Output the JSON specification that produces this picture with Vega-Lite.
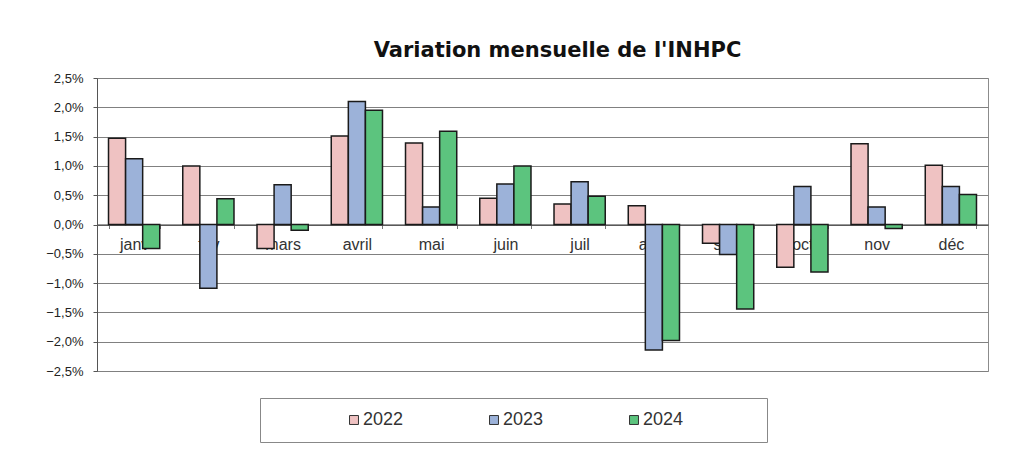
{
  "$schema": "https://vega.github.io/schema/vega-lite/v6.json",
  "width": 891,
  "height": 293,
  "autosize": {"type": "none"},
  "padding": {"left": 97, "top": 78, "right": 21, "bottom": 83},
  "background": "white",
  "config": {
    "locale": {"number": {"decimal": ",", "thousands": " ", "grouping": [3], "currency": ["", " €"]}},
    "view": {"stroke": "#8c8c8c", "strokeWidth": 1},
    "font": "Liberation Sans"
  },
  "title": {
    "text": "Variation mensuelle de l'INHPC",
    "font": "DejaVu Sans",
    "fontSize": 21,
    "fontWeight": "bold",
    "color": "#111111",
    "anchor": "middle",
    "dx": 15,
    "baseline": "alphabetic",
    "offset": -6
  },
  "data": {
    "values": [
      {"mois": "janv", "annee": "2022", "variation": 0.0147},
      {"mois": "janv", "annee": "2023", "variation": 0.0112},
      {"mois": "janv", "annee": "2024", "variation": -0.0041},
      {"mois": "fév", "annee": "2022", "variation": 0.0100},
      {"mois": "fév", "annee": "2023", "variation": -0.0109},
      {"mois": "fév", "annee": "2024", "variation": 0.0044},
      {"mois": "mars", "annee": "2022", "variation": -0.0041},
      {"mois": "mars", "annee": "2023", "variation": 0.0068},
      {"mois": "mars", "annee": "2024", "variation": -0.0010},
      {"mois": "avril", "annee": "2022", "variation": 0.0151},
      {"mois": "avril", "annee": "2023", "variation": 0.0210},
      {"mois": "avril", "annee": "2024", "variation": 0.0195},
      {"mois": "mai", "annee": "2022", "variation": 0.0139},
      {"mois": "mai", "annee": "2023", "variation": 0.0030},
      {"mois": "mai", "annee": "2024", "variation": 0.0159},
      {"mois": "juin", "annee": "2022", "variation": 0.0045},
      {"mois": "juin", "annee": "2023", "variation": 0.0069},
      {"mois": "juin", "annee": "2024", "variation": 0.0100},
      {"mois": "juil", "annee": "2022", "variation": 0.0035},
      {"mois": "juil", "annee": "2023", "variation": 0.0073},
      {"mois": "juil", "annee": "2024", "variation": 0.0048},
      {"mois": "août", "annee": "2022", "variation": 0.0032},
      {"mois": "août", "annee": "2023", "variation": -0.0214},
      {"mois": "août", "annee": "2024", "variation": -0.0198},
      {"mois": "sept", "annee": "2022", "variation": -0.0032},
      {"mois": "sept", "annee": "2023", "variation": -0.0051},
      {"mois": "sept", "annee": "2024", "variation": -0.0144},
      {"mois": "oct", "annee": "2022", "variation": -0.0073},
      {"mois": "oct", "annee": "2023", "variation": 0.0065},
      {"mois": "oct", "annee": "2024", "variation": -0.0081},
      {"mois": "nov", "annee": "2022", "variation": 0.0138},
      {"mois": "nov", "annee": "2023", "variation": 0.0030},
      {"mois": "nov", "annee": "2024", "variation": -0.0007},
      {"mois": "déc", "annee": "2022", "variation": 0.0101},
      {"mois": "déc", "annee": "2023", "variation": 0.0065},
      {"mois": "déc", "annee": "2024", "variation": 0.0051}
    ]
  },
  "mark": {"type": "bar", "stroke": "#1a1a1a", "strokeWidth": 1.5},
  "encoding": {
    "x": {
      "field": "mois",
      "type": "nominal",
      "sort": ["janv", "fév", "mars", "avril", "mai", "juin", "juil", "août", "sept", "oct", "nov", "déc"],
      "scale": {"paddingInner": 0.31, "paddingOuter": 0.155},
      "axis": {
        "title": null,
        "labelAngle": 0,
        "offset": -146.5,
        "domainColor": "#333333",
        "domainWidth": 1.2,
        "tickBand": "extent",
        "tickSize": 4,
        "tickColor": "#777777",
        "labelPadding": 8,
        "labelFontSize": 16,
        "labelColor": "#333333",
        "grid": false
      }
    },
    "xOffset": {"field": "annee", "type": "nominal", "sort": ["2022", "2023", "2024"]},
    "y": {
      "field": "variation",
      "type": "quantitative",
      "scale": {"domain": [-0.025, 0.025], "nice": false, "zero": false},
      "axis": {
        "title": null,
        "format": ".1%",
        "values": [-0.025, -0.02, -0.015, -0.01, -0.005, 0, 0.005, 0.01, 0.015, 0.02, 0.025],
        "grid": true,
        "gridColor": "#808080",
        "gridWidth": 1,
        "domainColor": "#555555",
        "tickColor": "#555555",
        "tickSize": 4,
        "labelPadding": 10,
        "labelFontSize": 13,
        "labelColor": "#222222"
      }
    },
    "color": {
      "field": "annee",
      "type": "nominal",
      "scale": {"domain": ["2022", "2023", "2024"], "range": ["#efc2c2", "#9cb2d9", "#5cc47e"]},
      "legend": {
        "orient": "none",
        "legendX": 163,
        "legendY": 320,
        "direction": "horizontal",
        "title": "\u00a0\u200b",
        "titleFontSize": 10,
        "titleOrient": "left",
        "titlePadding": 72,
        "padding": 13,
        "strokeColor": "#888888",
        "fillColor": "white",
        "symbolType": "square",
        "symbolSize": 80,
        "symbolStrokeColor": "#333333",
        "symbolStrokeWidth": 1,
        "labelFontSize": 18,
        "labelColor": "#333333",
        "labelOffset": 0,
        "labelLimit": 400,
        "columnPadding": 81,
        "labelExpr": "datum.label == '2024' ? datum.label + '\u00a0\u00a0\u00a0\u00a0\u00a0\u00a0\u00a0\u00a0\u00a0\u00a0\u00a0\u00a0\u00a0\u00a0\u200b' : datum.label"
      }
    }
  }
}
